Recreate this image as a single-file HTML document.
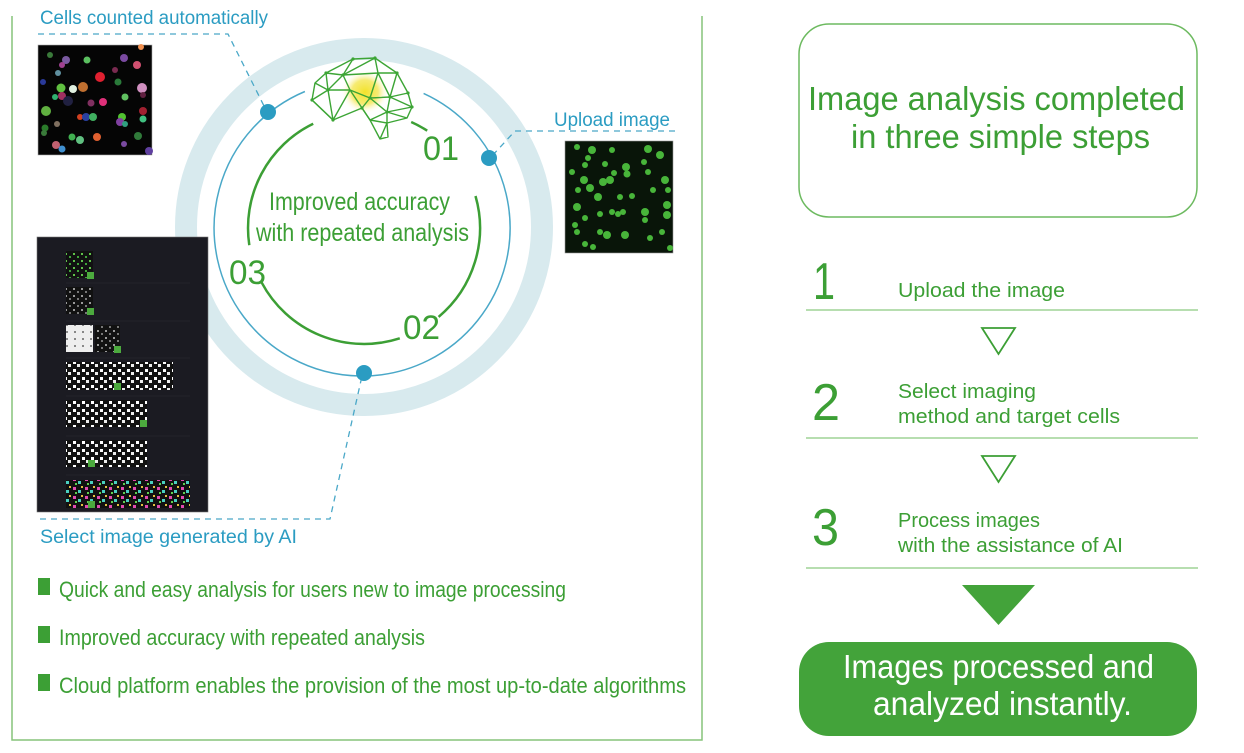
<!DOCTYPE html>
<html><head><meta charset="utf-8"><style>
html,body{margin:0;padding:0;background:#fff;width:1244px;height:753px;overflow:hidden}
svg{display:block}
text{font-family:"Liberation Sans Narrow","Liberation Sans",sans-serif}
.w{font-family:"Liberation Sans",sans-serif}
</style></head><body>
<svg width="1244" height="753" viewBox="0 0 1244 753" xmlns="http://www.w3.org/2000/svg">
<defs>
<radialGradient id="glow" cx="0.5" cy="0.5" r="0.5"><stop offset="0" stop-color="#f2e22a"/><stop offset="0.55" stop-color="#f4e650" stop-opacity="0.8"/><stop offset="1" stop-color="#fff" stop-opacity="0"/></radialGradient>
<pattern id="wd" width="9" height="8" patternUnits="userSpaceOnUse"><rect width="9" height="8" fill="#111"/><rect x="1" y="1" width="3" height="3" fill="#fff"/><rect x="5" y="4" width="3" height="3" fill="#eee"/></pattern>
<pattern id="gd" width="8" height="7" patternUnits="userSpaceOnUse"><rect width="8" height="7" fill="#111"/><rect x="1" y="1" width="2" height="2" fill="#5fc24a"/><rect x="5" y="4" width="2" height="2" fill="#3fa53a"/></pattern>
<pattern id="gr" width="8" height="7" patternUnits="userSpaceOnUse"><rect width="8" height="7" fill="#111"/><rect x="1" y="1" width="2" height="2" fill="#999"/><rect x="5" y="4" width="2" height="2" fill="#777"/></pattern>
<pattern id="lt" width="8" height="7" patternUnits="userSpaceOnUse"><rect width="8" height="7" fill="#eee"/><rect x="2" y="2" width="2" height="2" fill="#888"/></pattern>
<pattern id="cl" width="12" height="9" patternUnits="userSpaceOnUse"><rect width="12" height="9" fill="#111"/><rect x="1" y="1" width="3" height="3" fill="#e04ab0"/><rect x="6" y="4" width="3" height="3" fill="#4ad0c0"/><rect x="9" y="0" width="2" height="2" fill="#e0c040"/><rect x="3" y="6" width="2" height="2" fill="#60d050"/></pattern>
</defs>

<path d="M12 16 V740 H702 V16" fill="none" stroke="#86c47a" stroke-width="1.5"/>

<circle cx="364" cy="227" r="178" fill="none" stroke="#d8eaee" stroke-width="22"/>
<path d="M423.6 93.4 A148 148 0 1 1 304.9 91.5" fill="none" stroke="#4aa8c8" stroke-width="1.5"/>
<g fill="none" stroke="#3c9f35" stroke-width="2.5">
<path d="M249.3 245.2 A116 116 0 0 1 313.2 123.7"/>
<path d="M399.8 338.3 A116 116 0 0 1 261.6 282.4"/>
<path d="M475.5 196 A116 116 0 0 1 438.6 316.9"/>
<path d="M411.2 122 A116 116 0 0 1 427.2 130.7"/>
</g>

<ellipse cx="365" cy="92" rx="24" ry="22" fill="url(#glow)"/>
<g stroke="#3ca535" stroke-width="1.4" fill="none" stroke-linejoin="round">
<polygon points="326,73 353,59 375,58 397,73 408,93 412,107 407,118 387,123 388,137 380,139 370,120 362,108 333,120 312,100 315,83"/>
<path d="M326,73 L343,75 L353,59 M343,75 L375,58 L378,73 L397,73 M343,75 L378,73 L370,98 L350,90 L343,75 M328,90 L343,75 M315,83 L328,90 L312,100 M328,90 L350,90 L333,120 L328,90 M350,90 L362,108 L370,98 L390,97 L378,73 M390,97 L408,93 M390,97 L412,107 M390,97 L387,112 L370,98 M387,112 L412,107 M387,112 L407,118 M387,112 L370,120 L362,108 M387,112 L387,123 M380,139 L387,123 L370,120 M350,90 L370,120 M397,73 L390,97 M326,73 L328,90 M312,100 L333,120 M353,59 L343,75"/>
</g>
<g fill="#3ca535"><circle cx="326" cy="73" r="1.6"/><circle cx="353" cy="59" r="1.6"/><circle cx="375" cy="58" r="1.6"/><circle cx="397" cy="73" r="1.6"/><circle cx="408" cy="93" r="1.6"/><circle cx="412" cy="107" r="1.6"/><circle cx="312" cy="100" r="1.6"/><circle cx="333" cy="120" r="1.6"/><circle cx="370" cy="98" r="1.6"/><circle cx="390" cy="97" r="1.6"/><circle cx="387" cy="112" r="1.6"/><circle cx="362" cy="108" r="1.6"/><circle cx="328" cy="90" r="1.6"/><circle cx="343" cy="75" r="1.6"/></g>

<g fill="#3c9f35">
<text x="423" y="160" font-size="34" textLength="36" lengthAdjust="spacingAndGlyphs">01</text>
<text x="229" y="284" font-size="34" textLength="37" lengthAdjust="spacingAndGlyphs">03</text>
<text x="403" y="339" font-size="34" textLength="37" lengthAdjust="spacingAndGlyphs">02</text>
<text x="269" y="210" font-size="25" textLength="181" lengthAdjust="spacingAndGlyphs">Improved accuracy</text>
<text x="256" y="241" font-size="25" textLength="213" lengthAdjust="spacingAndGlyphs">with repeated analysis</text>
</g>

<g fill="none" stroke="#4aa8c8" stroke-width="1.3" stroke-dasharray="6,5">
<path d="M38 34 H228 L264 106"/>
<path d="M675 131 H515 L492 156"/>
<path d="M40 519 H330 L362 376"/>
</g>
<g fill="#2b9cc2"><circle cx="268" cy="112" r="8"/><circle cx="489" cy="158" r="8"/><circle cx="364" cy="373" r="8"/></g>

<g fill="#2b9cc2">
<text x="40" y="24" font-size="19" textLength="228" lengthAdjust="spacingAndGlyphs">Cells counted automatically</text>
<text x="554" y="126" font-size="19" textLength="116" lengthAdjust="spacingAndGlyphs">Upload image</text>
<text x="40" y="543" font-size="19" textLength="257" lengthAdjust="spacingAndGlyphs">Select image generated by AI</text>
</g>

<rect x="38" y="45" width="114" height="110" fill="#050505" stroke="#aaa" stroke-width="0.6"/>
<g>
<circle cx="50" cy="55" r="3" fill="#3a7a3a"/><circle cx="66" cy="60" r="4" fill="#7a5aa0"/><circle cx="62" cy="65" r="3" fill="#a04090"/><circle cx="58" cy="73" r="3" fill="#6090a0"/><circle cx="87" cy="60" r="3.5" fill="#5bc060"/><circle cx="124" cy="58" r="4" fill="#7a4aa0"/><circle cx="137" cy="65" r="4" fill="#d05070"/><circle cx="141" cy="47" r="3" fill="#f09050"/><circle cx="100" cy="77" r="5" fill="#e02030"/><circle cx="115" cy="70" r="3" fill="#7a2a50"/><circle cx="118" cy="82" r="3.5" fill="#2a7a3a"/><circle cx="43" cy="82" r="3" fill="#2a3a9a"/><circle cx="61" cy="88" r="4.5" fill="#60c040"/><circle cx="73" cy="89" r="4" fill="#e0f0e0"/><circle cx="83" cy="87" r="5" fill="#c07030"/><circle cx="55" cy="97" r="3" fill="#30b070"/><circle cx="62" cy="96" r="4" fill="#a03060"/><circle cx="68" cy="101" r="5" fill="#202040"/><circle cx="125" cy="97" r="3.5" fill="#60c060"/><circle cx="142" cy="88" r="5" fill="#d090c0"/><circle cx="143" cy="95" r="3" fill="#602040"/><circle cx="91" cy="103" r="3.5" fill="#803060"/><circle cx="103" cy="102" r="4" fill="#e0307a"/><circle cx="46" cy="111" r="5" fill="#60b040"/><circle cx="80" cy="117" r="3" fill="#d04020"/><circle cx="86" cy="117" r="4" fill="#2a40a0"/><circle cx="93" cy="117" r="4" fill="#40b060"/><circle cx="122" cy="117" r="4" fill="#50c030"/><circle cx="120" cy="122" r="4" fill="#8040a0"/><circle cx="125" cy="124" r="3" fill="#30a080"/><circle cx="143" cy="111" r="4" fill="#a02030"/><circle cx="143" cy="119" r="3.5" fill="#40c080"/><circle cx="57" cy="124" r="3" fill="#807060"/><circle cx="45" cy="128" r="3.5" fill="#2a7a2a"/><circle cx="44" cy="133" r="3" fill="#3a7a3a"/><circle cx="72" cy="137" r="3.5" fill="#40b050"/><circle cx="80" cy="140" r="4" fill="#60c080"/><circle cx="97" cy="137" r="4" fill="#e06030"/><circle cx="138" cy="136" r="4" fill="#307a3a"/><circle cx="56" cy="145" r="4" fill="#c06070"/><circle cx="62" cy="149" r="3.5" fill="#4090d0"/><circle cx="124" cy="144" r="3" fill="#7a4aa0"/><circle cx="149" cy="151" r="4" fill="#6040a0"/>
</g>

<rect x="565" y="141" width="108" height="112" fill="#091509" stroke="#999" stroke-width="0.6"/>
<g fill="#48b53a">
<circle cx="577" cy="147" r="3"/><circle cx="592" cy="150" r="4"/><circle cx="588" cy="158" r="3"/><circle cx="612" cy="150" r="3"/><circle cx="648" cy="149" r="4"/><circle cx="660" cy="155" r="4"/><circle cx="585" cy="165" r="3"/><circle cx="605" cy="164" r="3"/><circle cx="626" cy="167" r="4"/><circle cx="627" cy="174" r="3.5"/><circle cx="644" cy="162" r="3"/><circle cx="648" cy="172" r="3"/><circle cx="572" cy="172" r="3"/><circle cx="584" cy="180" r="4"/><circle cx="590" cy="188" r="4"/><circle cx="598" cy="197" r="4"/><circle cx="578" cy="190" r="3"/><circle cx="603" cy="182" r="4"/><circle cx="610" cy="180" r="4"/><circle cx="614" cy="173" r="3"/><circle cx="665" cy="180" r="4"/><circle cx="668" cy="190" r="3"/><circle cx="653" cy="190" r="3"/><circle cx="620" cy="197" r="3"/><circle cx="632" cy="196" r="3"/><circle cx="577" cy="207" r="4"/><circle cx="600" cy="214" r="3"/><circle cx="612" cy="212" r="3"/><circle cx="618" cy="214" r="3"/><circle cx="623" cy="212" r="3"/><circle cx="645" cy="212" r="4"/><circle cx="645" cy="220" r="3"/><circle cx="667" cy="205" r="4"/><circle cx="667" cy="215" r="4"/><circle cx="585" cy="218" r="3"/><circle cx="575" cy="225" r="3"/><circle cx="577" cy="232" r="3"/><circle cx="600" cy="232" r="3"/><circle cx="607" cy="235" r="4"/><circle cx="625" cy="235" r="4"/><circle cx="650" cy="238" r="3"/><circle cx="662" cy="232" r="3"/><circle cx="585" cy="244" r="3"/><circle cx="593" cy="247" r="3"/><circle cx="670" cy="248" r="3"/>
</g>

<rect x="37" y="237" width="171" height="275" fill="#1b1b22" stroke="#777" stroke-width="0.6"/>
<g stroke="#2c2c35" stroke-width="0.6"><path d="M66 283 H190 M66 321 H190 M66 358 H190 M66 396 H190 M66 436 H190 M66 475 H190"/></g>
<rect x="66" y="251" width="27" height="27" fill="url(#gd)"/>
<rect x="66" y="287" width="27" height="27" fill="url(#gr)"/>
<rect x="66" y="325" width="27" height="27" fill="url(#lt)"/>
<rect x="95" y="325" width="25" height="27" fill="url(#gr)"/>
<rect x="66" y="362" width="107" height="28" fill="url(#wd)"/>
<rect x="66" y="400" width="81" height="27" fill="url(#wd)"/>
<rect x="66" y="440" width="81" height="27" fill="url(#wd)"/>
<rect x="66" y="480" width="124" height="28" fill="url(#cl)"/>
<g fill="#4caa3e"><rect x="87" y="272" width="7" height="7"/><rect x="87" y="308" width="7" height="7"/><rect x="114" y="346" width="7" height="7"/><rect x="114" y="383" width="7" height="7"/><rect x="140" y="420" width="7" height="7"/><rect x="88" y="460" width="7" height="7"/><rect x="88" y="501" width="7" height="7"/></g>

<g fill="#3c9f35">
<rect x="38" y="578" width="12" height="17"/><rect x="38" y="626" width="12" height="17"/><rect x="38" y="674" width="12" height="17"/>
<text x="59" y="597" font-size="22" textLength="507" lengthAdjust="spacingAndGlyphs">Quick and easy analysis for users new to image processing</text>
<text x="59" y="645" font-size="22" textLength="366" lengthAdjust="spacingAndGlyphs">Improved accuracy with repeated analysis</text>
<text x="59" y="693" font-size="22" textLength="627" lengthAdjust="spacingAndGlyphs">Cloud platform enables the provision of the most up-to-date algorithms</text>
</g>

<rect x="799" y="24" width="398" height="193" rx="30" fill="none" stroke="#6dba60" stroke-width="1.5"/>
<g fill="#3c9f35">
<text class="w" x="808" y="110" font-size="33" textLength="377" lengthAdjust="spacingAndGlyphs">Image analysis completed</text>
<text class="w" x="851" y="148" font-size="33" textLength="299" lengthAdjust="spacingAndGlyphs">in three simple steps</text>
<text class="w" x="813" y="299" font-size="52" textLength="22" lengthAdjust="spacingAndGlyphs">1</text>
<text class="w" x="812" y="420" font-size="52" textLength="28" lengthAdjust="spacingAndGlyphs">2</text>
<text class="w" x="812" y="545" font-size="52" textLength="27" lengthAdjust="spacingAndGlyphs">3</text>
<text class="w" x="898" y="297" font-size="20" textLength="167" lengthAdjust="spacingAndGlyphs">Upload the image</text>
<text class="w" x="898" y="398" font-size="20" textLength="138" lengthAdjust="spacingAndGlyphs">Select imaging</text>
<text class="w" x="898" y="423" font-size="20" textLength="222" lengthAdjust="spacingAndGlyphs">method and target cells</text>
<text class="w" x="898" y="527" font-size="20" textLength="142" lengthAdjust="spacingAndGlyphs">Process images</text>
<text class="w" x="898" y="552" font-size="20" textLength="225" lengthAdjust="spacingAndGlyphs">with the assistance of AI</text>
</g>
<g stroke="#8ccb80" stroke-width="1.3"><path d="M806 310 H1198 M806 438 H1198 M806 568 H1198"/></g>
<g fill="none" stroke="#3c9f35" stroke-width="1.8">
<polygon points="982,328 1015,328 998.5,354"/>
<polygon points="982,456 1015,456 998.5,482"/>
</g>
<polygon points="962,585 1035,585 998.5,625" fill="#43a33a"/>
<rect x="799" y="642" width="398" height="94" rx="30" fill="#43a33a"/>
<text class="w" x="843" y="678" font-size="33" fill="#fff" textLength="311" lengthAdjust="spacingAndGlyphs">Images processed and</text>
<text class="w" x="873" y="715" font-size="33" fill="#fff" textLength="259" lengthAdjust="spacingAndGlyphs">analyzed instantly.</text>
</svg>
</body></html>
